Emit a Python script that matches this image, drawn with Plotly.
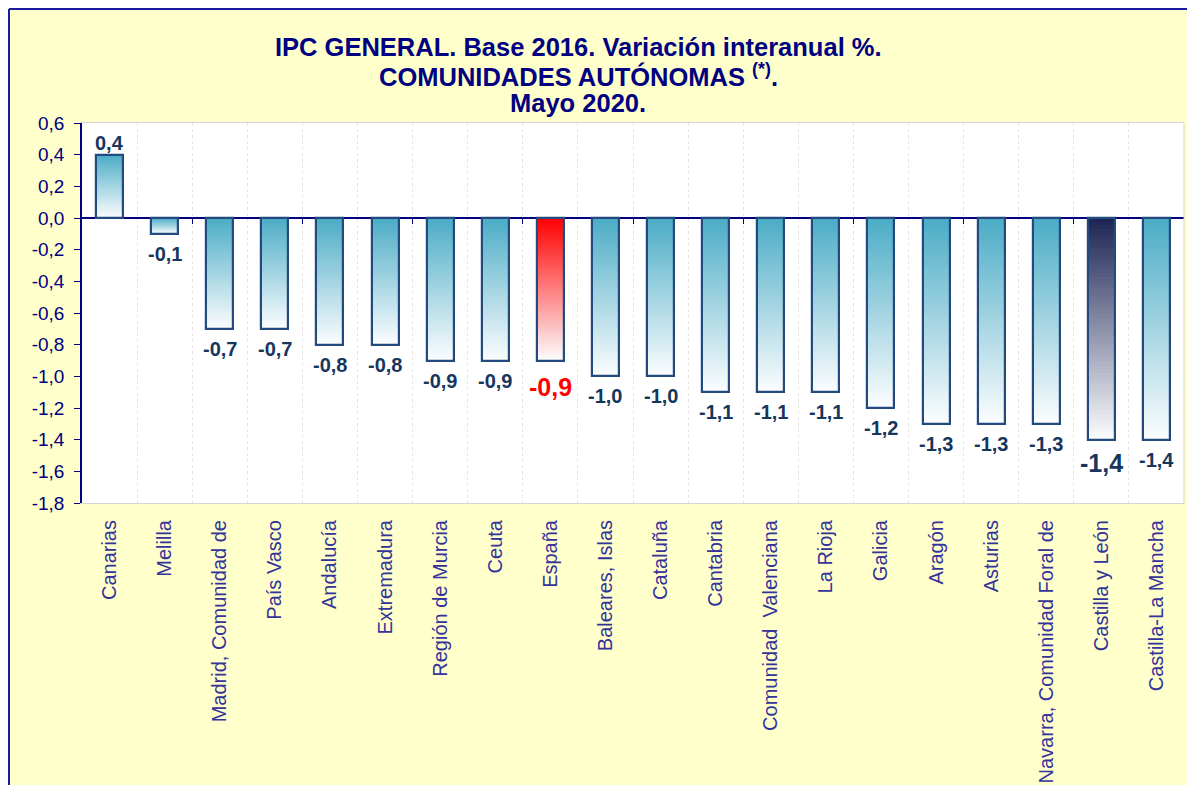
import plotly.graph_objects as go

# ---------------- data ----------------
categories = ["Canarias", "Melilla", "Madrid, Comunidad de", "País Vasco", "Andalucía",
              "Extremadura", "Región de Murcia", "Ceuta", "España", "Baleares, Islas",
              "Cataluña", "Cantabria", "Comunidad \u00a0Valenciana", "La Rioja", "Galicia",
              "Aragón", "Asturias", "Navarra, Comunidad Foral de", "Castilla y León",
              "Castilla-La Mancha"]
values = [0.4, -0.1, -0.7, -0.7, -0.8, -0.8, -0.9, -0.9, -0.9, -1.0,
          -1.0, -1.1, -1.1, -1.1, -1.2, -1.3, -1.3, -1.3, -1.4, -1.4]
y_ticks = [0.6, 0.4, 0.2, 0.0, -0.2, -0.4, -0.6, -0.8, -1.0, -1.2, -1.4, -1.6, -1.8]
title_lines = ["IPC GENERAL. Base 2016. Variación interanual %.",
               "COMUNIDADES AUTÓNOMAS <sup>(*)</sup>.",
               "Mayo 2020."]
highlight_red = "España"
highlight_dark = "Castilla y León"

# ---------------- style ----------------
OFF = 8                      # page body margin
W, H = 1195 - OFF, 785 - OFF
ML, MR, MT, MB = 74, 11, 115, 282
FONT = "Liberation Sans, Arial, sans-serif"
NAVY = "#000080"
YELLOW = "#FFFFCC"
TEAL = (75, 172, 198)
RED = (255, 0, 0)
DARK = (28, 36, 84)
BOTTOM = (252, 253, 254)
OUTLINE = "#234A7E"
LABEL_COL = "#17365D"
BAR_W = 0.49
N_SEG = 60

def px2paper_x(px):          # px in figure pixels
    return (px - ML) / (W - ML - MR)

def px2paper_y(py):
    return (H - MB - py) / (H - MT - MB)

def mix(c1, c2, t):
    return "rgb(%d,%d,%d)" % tuple(round(a * (1 - t) + b * t) for a, b in zip(c1, c2))

def top_color(cat):
    if cat == highlight_red:
        return RED
    if cat == highlight_dark:
        return DARK
    return TEAL

fig = go.Figure()

# gradient fill: overlaid bars, each shorter and darker, anchored at the bar top
for k in range(N_SEG):
    frac = 1 - k / N_SEG
    t = frac - 0.5 / N_SEG
    bases, lens, cols = [], [], []
    for cat, v in zip(categories, values):
        hi, lo = max(v, 0.0), min(v, 0.0)
        d = (hi - lo) * frac
        bases.append(hi - d)
        lens.append(d)
        cols.append(mix(top_color(cat), BOTTOM, t))
    fig.add_trace(go.Bar(x=categories, y=lens, base=bases, width=BAR_W,
                         marker=dict(color=cols, line=dict(width=0)),
                         hoverinfo="skip", showlegend=False))

# outline
fig.add_trace(go.Bar(x=categories, y=values, width=BAR_W,
                     marker=dict(color="rgba(0,0,0,0)", line=dict(color=OUTLINE, width=2.2)),
                     hoverinfo="skip", showlegend=False))

# helper trace for tick marks on the zero line
n = len(categories)
fig.add_trace(go.Scatter(x=list(range(n)), y=values, xaxis="x2", mode="markers",
                         marker=dict(opacity=0), hoverinfo="skip", showlegend=False))

def fmt(v):
    return ("%.1f" % v).replace(".", ",")

# value labels
annotations = []
for cat, v in zip(categories, values):
    size, color, shift = 20, LABEL_COL, -20
    if cat == highlight_red:
        size, color, shift = 25, "#FF0000", -26
    elif cat == highlight_dark:
        size, shift = 25, -23
    if v > 0:
        shift = 12
    annotations.append(dict(x=cat, y=v, xref="x", yref="y", text="<b>%s</b>" % fmt(v),
                            showarrow=False, yshift=shift, yanchor="middle",
                            font=dict(family=FONT, size=size, color=color)))

# title lines (screen y positions minus body offset)
for line, ypx in zip(title_lines, [47, 75, 103]):
    annotations.append(dict(x=px2paper_x(578 - OFF), y=px2paper_y(ypx - OFF),
                            xref="paper", yref="paper",
                            text="<b>%s</b>" % line, showarrow=False,
                            xanchor="center", yanchor="middle",
                            font=dict(family=FONT, size=25.5, color=NAVY)))

x_border = px2paper_x(1)
y_border = px2paper_y(1)
shapes = [
    dict(type="line", xref="paper", yref="paper", x0=x_border, x1=1.2, y0=y_border, y1=y_border,
         line=dict(color="#1A1AA0", width=2), layer="above"),
    dict(type="line", xref="paper", yref="paper", x0=x_border, x1=x_border, y0=-1.5, y1=y_border,
         line=dict(color="#1A1AA0", width=2), layer="above"),
    dict(type="line", xref="paper", yref="paper", x0=1, x1=1, y0=0, y1=1,
         line=dict(color="#D4D4D4", width=1), layer="above"),
]

ymin, ymax = min(y_ticks), max(y_ticks)
fig.update_layout(
    width=W, height=H,
    margin=dict(l=ML, r=MR, t=MT, b=MB, pad=0, autoexpand=False),
    paper_bgcolor=YELLOW, plot_bgcolor="white",
    barmode="overlay", bargap=0,
    showlegend=False,
    annotations=annotations, shapes=shapes,
    xaxis=dict(type="category", tickson="boundaries", showgrid=True, gridcolor="#E4E4E4",
               griddash="dot", gridwidth=1, showline=True, linecolor="#D4D4D4", linewidth=1,
               mirror=True, ticks="", tickangle=-90, ticklabelstandoff=8, automargin=False,
               tickfont=dict(family=FONT, size=20, color="#333399"),
               range=[-0.5, n - 0.5]),
    xaxis2=dict(type="linear", overlaying="x", anchor="free", automargin=False,
                position=(0 - ymin) / (ymax - ymin), side="bottom",
                range=[-0.5, n - 0.5], tickvals=[i - 0.5 for i in range(2, n, 2)],
                ticks="outside", ticklen=5, tickcolor=NAVY, tickwidth=1,
                showticklabels=False, showgrid=False, showline=False, zeroline=False),
    yaxis=dict(range=[ymin, ymax], tickvals=y_ticks, ticktext=[fmt(v) for v in y_ticks],
               showgrid=False, showline=True, linecolor=NAVY, linewidth=1.5,
               ticks="outside", ticklen=6, tickcolor=NAVY, tickwidth=1,
               ticklabelstandoff=6, automargin=False,
               zeroline=True, zerolinecolor=NAVY, zerolinewidth=1.5,
               tickfont=dict(family=FONT, size=19, color=NAVY)),
)

fig.write_html("out.html")
